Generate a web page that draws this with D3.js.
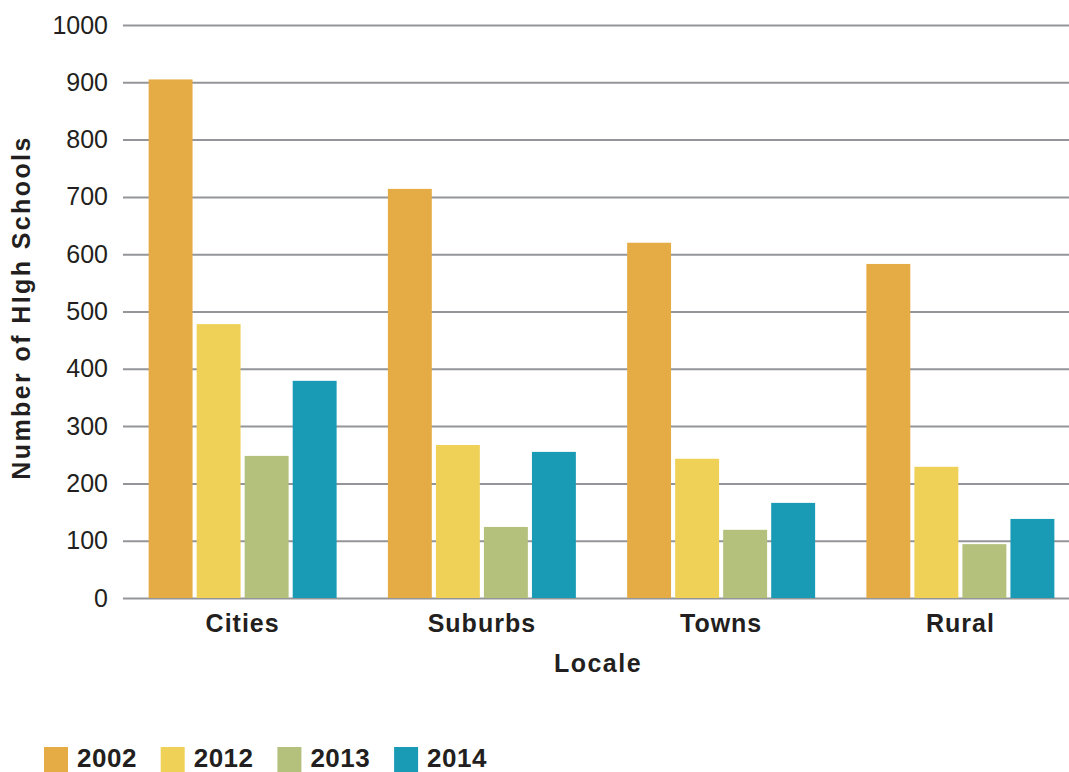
<!DOCTYPE html>
<html>
<head>
<meta charset="utf-8">
<script src="https://cdn.jsdelivr.net/npm/d3@7"></script>
<style>
  html, body { margin: 0; padding: 0; background: #fff; }
  svg text { font-family: "Liberation Sans", Arial, Helvetica, sans-serif; fill: #231f20; }
</style>
</head>
<body>
<div id="chart"></div>
<script>
// Data
const locales = ['Cities', 'Suburbs', 'Towns', 'Rural']
const years = ['2002', '2012', '2013', '2014']
const values2002 = [905, 714, 620, 583]
const values2012 = [478, 267, 243, 229]
const values2013 = [248, 124, 119, 94]
const values2014 = [379, 255, 166, 138]
const yTicks = [0, 100, 200, 300, 400, 500, 600, 700, 800, 900, 1000]

const colors = ['#e5ac45', '#efd158', '#b3c17d', '#1a9bb5']
const seriesValues = [values2002, values2012, values2013, values2014]

const W = 1069, H = 772
const margin = { top: 25, right: -11, bottom: 174, left: 123 }
const width = W - margin.left - margin.right
const height = H - margin.top - margin.bottom

const rows = locales.map((loc, i) => ({
    locale: loc,
    vals: years.map((yr, j) => ({ year: yr, value: seriesValues[j][i], color: colors[j] }))
}))

const svg = d3.select('#chart')
    .append('svg')
    .attr('width', W)
    .attr('height', H)

const g = svg.append('g')
    .attr('transform', `translate(${margin.left}, ${margin.top})`)

// Scales
const x0 = d3.scaleBand()
    .domain(locales)
    .range([0, width])
    .paddingInner(0.2142)
    .paddingOuter(0.1071)
const x1 = d3.scaleBand()
    .domain(years)
    .range([0, x0.bandwidth()])
    .paddingInner(0.0851)
const y = d3.scaleLinear()
    .domain([0, 1000])
    .range([height, 0])

// Gridlines + y labels
const yAxis = d3.axisLeft(y)
    .tickValues(yTicks)
    .tickFormat(d3.format('d'))
    .tickSize(-(W - margin.left))
    .tickPadding(15)
const ay = g.append('g').attr('class', 'y axis').call(yAxis)
ay.select('.domain').remove()
ay.selectAll('line')
    .attr('stroke', '#939598')
    .attr('stroke-width', 2)
ay.selectAll('text')
    .attr('font-size', '25px')
    .style('fill', '#231f20')

// Bars
const groups = g.selectAll('.group')
    .data(rows)
    .join('g')
    .attr('class', 'group')
    .attr('transform', d => `translate(${x0(d.locale)}, 0)`)

groups.selectAll('rect')
    .data(d => d.vals)
    .join('rect')
    .attr('x', d => x1(d.year))
    .attr('width', x1.bandwidth())
    .attr('y', d => y(d.value))
    .attr('height', d => y(0) - y(d.value))
    .attr('fill', d => d.color)

// x axis labels
const xAxis = d3.axisBottom(x0).tickSize(0).tickPadding(16)
const ax = g.append('g')
    .attr('class', 'x axis')
    .attr('transform', `translate(0, ${height})`)
    .call(xAxis)
ax.select('.domain').remove()
ax.selectAll('text')
    .attr('font-size', '25px')
    .attr('font-weight', 'bold')
    .attr('letter-spacing', '1px')
    .style('fill', '#231f20')

// Axis titles
svg.append('text')
    .attr('x', (margin.left + W) / 2 + 2)
    .attr('y', 672)
    .attr('text-anchor', 'middle')
    .attr('font-size', '25px')
    .attr('font-weight', 'bold')
    .attr('letter-spacing', '1.5px')
    .text('Locale')

svg.append('text')
    .attr('transform', `translate(30, ${margin.top + height / 2 - 4}) rotate(-90)`)
    .attr('text-anchor', 'middle')
    .attr('font-size', '25px')
    .attr('font-weight', 'bold')
    .attr('letter-spacing', '2.4px')
    .text('Number of HIgh Schools')

// Legend
const legend = svg.append('g')
    .attr('transform', 'translate(44, 747)')
const item = legend.selectAll('.item')
    .data(years)
    .join('g')
    .attr('class', 'item')
    .attr('transform', (d, i) => `translate(${i * 116.7}, 0)`)
item.append('rect')
    .attr('width', 24)
    .attr('height', 25)
    .attr('fill', (d, i) => colors[i])
item.append('text')
    .attr('x', 33)
    .attr('y', 20)
    .attr('font-size', '26px')
    .attr('font-weight', 'bold')
    .attr('letter-spacing', '0.5px')
    .text(d => d)
</script>
</body>
</html>
